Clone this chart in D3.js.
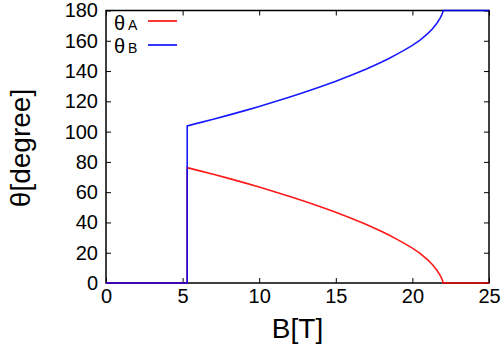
<!DOCTYPE html>
<html>
<head>
<meta charset="utf-8">
<script src="https://cdn.jsdelivr.net/npm/d3@7"></script>
<style>
  body { margin: 0; background: #fff; }
  text { font-family: "Liberation Sans", Arial, sans-serif; fill: #000; }
</style>
</head>
<body>
<div class="chart"></div>
<script>
// data
const bField = [0, 5.3, 5.3, 6, 7, 8, 9, 10, 11, 12, 13, 14, 15, 16, 17, 18, 18.5, 19, 19.5, 20, 20.5, 21, 21.3, 21.6, 21.8, 21.9, 21.97, 22, 25]
const thetaA = [0, 0, 76.2, 74.4, 71.8, 69.1, 66.3, 63.4, 60.3, 57.1, 53.8, 50.3, 46.7, 42.8, 38.6, 34, 31.5, 28.8, 26, 23, 19.6, 15.3, 12.2, 8.4, 5.2, 3.3, 1.5, 0, 0]
const thetaB = [0, 0, 103.8, 105.6, 108.2, 110.9, 113.7, 116.6, 119.7, 122.9, 126.2, 129.7, 133.3, 137.2, 141.4, 146, 148.5, 151.2, 154, 157, 160.4, 164.7, 167.8, 171.6, 174.8, 176.7, 178.5, 180, 180]
const xTicks = [0, 5, 10, 15, 20, 25]
const yTicks = [0, 20, 40, 60, 80, 100, 120, 140, 160, 180]

const width = 503
const height = 349
const margin = ({ top: 10.5, right: 14, bottom: 66, left: 106 })

const svg = d3.select(".chart")
    .append("svg")
    .attr("width", width)
    .attr("height", height)

// scales
const xScale = d3.scaleLinear()
    .domain([0, 25])
    .range([margin.left, width - margin.right])

const yScale = d3.scaleLinear()
    .domain([0, 180])
    .range([height - margin.bottom, margin.top])

// axes, ticks pointing inward, mirrored on top and right
svg.append("g")
    .attr("transform", "translate(0," + (height - margin.bottom) + ")")
    .call(d3.axisBottom(xScale).tickValues(xTicks).tickSizeInner(-5).tickSizeOuter(0).tickPadding(4))
    .call(g => g.selectAll("text").attr("font-size", 20).attr("dy", "0.78em"))

svg.append("g")
    .attr("transform", "translate(0," + margin.top + ")")
    .call(d3.axisTop(xScale).tickValues(xTicks).tickSizeInner(-5).tickSizeOuter(0).tickFormat(""))

svg.append("g")
    .attr("transform", "translate(" + margin.left + ",0)")
    .call(d3.axisLeft(yScale).tickValues(yTicks).tickSizeInner(-5).tickSizeOuter(0).tickPadding(8))
    .call(g => g.selectAll("text").attr("font-size", 20))

svg.append("g")
    .attr("transform", "translate(" + (width - margin.right) + ",0)")
    .call(d3.axisRight(yScale).tickValues(yTicks).tickSizeInner(-5).tickSizeOuter(0).tickFormat(""))

svg.selectAll(".domain").remove()
svg.selectAll(".tick line").attr("stroke", "#000").attr("stroke-width", 1)

// frame
svg.append("rect")
    .attr("x", margin.left)
    .attr("y", margin.top)
    .attr("width", width - margin.left - margin.right)
    .attr("height", height - margin.top - margin.bottom)
    .attr("fill", "none")
    .attr("stroke", "#000")
    .attr("stroke-width", 1.5)

// curves
const line = d3.line().x((d, i) => xScale(bField[i])).y(d => yScale(d))

svg.append("path")
    .datum(thetaA)
    .attr("d", line)
    .attr("fill", "none")
    .attr("stroke", "#ff0000")
    .attr("stroke-width", 1.6)
    .attr("stroke-opacity", 0.9)

svg.append("path")
    .datum(thetaB)
    .attr("d", line)
    .attr("fill", "none")
    .attr("stroke", "#0000ff")
    .attr("stroke-width", 1.6)
    .attr("stroke-opacity", 0.9)

// legend
const legend = [
    { name: "A", color: "#ff0000", y: 21, base: 30 },
    { name: "B", color: "#0000ff", y: 45, base: 53 }
]
const lg = svg.selectAll("g.legend")
    .data(legend)
    .join("g")
    .attr("class", "legend")

lg.append("text")
    .attr("x", 114)
    .attr("y", d => d.base)
    .attr("font-family", "'Liberation Serif', 'DejaVu Serif', serif")
    .attr("font-size", 20)
    .text("θ")
lg.append("text")
    .attr("x", 128)
    .attr("y", d => d.base)
    .attr("font-size", 14)
    .text(d => d.name)
lg.append("line")
    .attr("x1", 148).attr("x2", 177)
    .attr("y1", d => d.y).attr("y2", d => d.y)
    .attr("stroke", d => d.color)
    .attr("stroke-width", 1.6)

// axis titles
svg.append("text")
    .attr("x", (margin.left + width - margin.right) / 2)
    .attr("y", 338)
    .attr("text-anchor", "middle")
    .attr("font-size", 28)
    .text("B[T]")

svg.append("text")
    .attr("transform", "translate(30," + 148 + ") rotate(-90)")
    .attr("text-anchor", "middle")
    .attr("font-size", 28)
    .text("θ[degree]")
</script>
</body>
</html>
